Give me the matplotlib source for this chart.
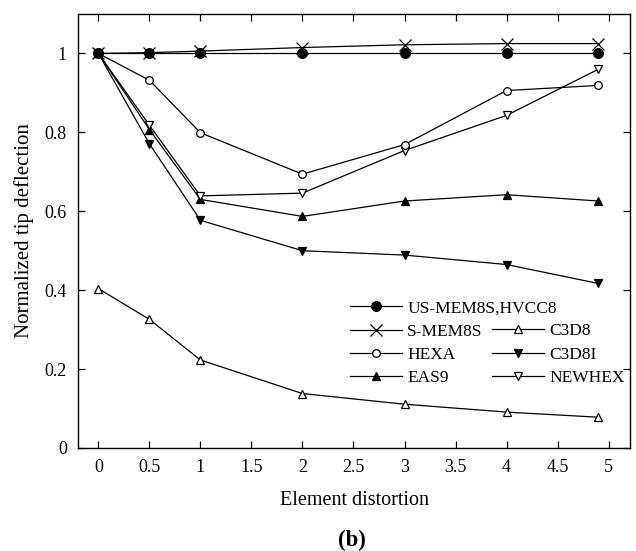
import matplotlib
matplotlib.use("Agg")
import matplotlib.pyplot as plt

plt.rcParams['font.family'] = ['Liberation Serif', 'DejaVu Serif']

x = [0, 0.5, 1, 2, 3, 4, 4.9]
us_mem8s = [1.0, 1.0, 1.0, 1.0, 1.0, 1.0, 1.0]
s_mem8s = [1.0, 1.002, 1.006, 1.015, 1.022, 1.025, 1.025]
hexa = [1.0, 0.932, 0.799, 0.694, 0.769, 0.906, 0.919]
eas9 = [1.0, 0.807, 0.630, 0.587, 0.626, 0.642, 0.626]
c3d8 = [0.404, 0.326, 0.223, 0.138, 0.111, 0.091, 0.078]
c3d8i = [1.0, 0.771, 0.577, 0.500, 0.489, 0.465, 0.417]
newhex = [1.0, 0.818, 0.639, 0.646, 0.754, 0.843, 0.960]

xticks = [0, 0.5, 1, 1.5, 2, 2.5, 3, 3.5, 4, 4.5, 5]
xticklabels = ['0', '0.5', '1', '1.5', '2', '2.5', '3', '3.5', '4', '4.5', '5']
yticks = [0, 0.2, 0.4, 0.6, 0.8, 1.0]
yticklabels = ['0', '0.2', '0.4', '0.6', '0.8', '1']

fig = plt.figure(figsize=(6.36, 5.51), dpi=100)
ax = fig.add_axes([78/636, 1-448/551, (630-78)/636, (448-14)/551])

lw = 0.9
kw = dict(color='black', lw=lw, markeredgecolor='black', markeredgewidth=0.9)
l_c3d8, = ax.plot(x, c3d8, marker='^', markerfacecolor='white', markersize=5.5, label='C3D8', **kw)
l_c3d8i, = ax.plot(x, c3d8i, marker='v', markerfacecolor='black', markersize=6, label='C3D8I', **kw)
l_eas9, = ax.plot(x, eas9, marker='^', markerfacecolor='black', markersize=6, label='EAS9', **kw)
l_newhex, = ax.plot(x, newhex, marker='v', markerfacecolor='white', markersize=6, label='NEWHEX', **kw)
l_hexa, = ax.plot(x, hexa, marker='o', markerfacecolor='white', markersize=5.5, label='HEXA', **kw)
l_s, = ax.plot(x, s_mem8s, marker='x', markersize=8, label='S-MEM8S', **kw)
l_us, = ax.plot(x, us_mem8s, marker='o', markerfacecolor='black', markersize=7, label='US-MEM8S,HVCC8', **kw)

ax.set_xlim(-0.2, 5.21)
ax.set_ylim(0, 1.1)
ax.set_xticks(xticks)
ax.set_xticklabels(xticklabels)
ax.set_yticks(yticks)
ax.set_yticklabels(yticklabels)
ax.tick_params(direction='in', top=True, right=True, length=5, width=0.9, labelsize=13, pad=8)
for s in ax.spines.values():
    s.set_linewidth(1.0)

ax.set_xlabel('Element distortion', fontsize=14.5, labelpad=11)
ax.set_ylabel('Normalized tip deflection', fontsize=15, labelpad=8)

leg_kw = dict(frameon=False, fontsize=12.5, handlelength=3.0, handletextpad=0.3,
              labelspacing=0.42, borderpad=0, borderaxespad=0, loc='upper left')
leg1 = ax.legend(handles=[l_us, l_s, l_hexa, l_eas9],
                 bbox_to_anchor=(350/636, 1-300/551), bbox_transform=fig.transFigure, **leg_kw)
ax.add_artist(leg1)
leg2 = ax.legend(handles=[l_c3d8, l_c3d8i, l_newhex],
                 bbox_to_anchor=(492/636, 1-323/551), bbox_transform=fig.transFigure, **leg_kw)

fig.text(352/636, 1-540/551, '(b)', fontsize=16.5, fontweight='bold', ha='center', va='center')

fig.savefig('out.png', dpi=100)
